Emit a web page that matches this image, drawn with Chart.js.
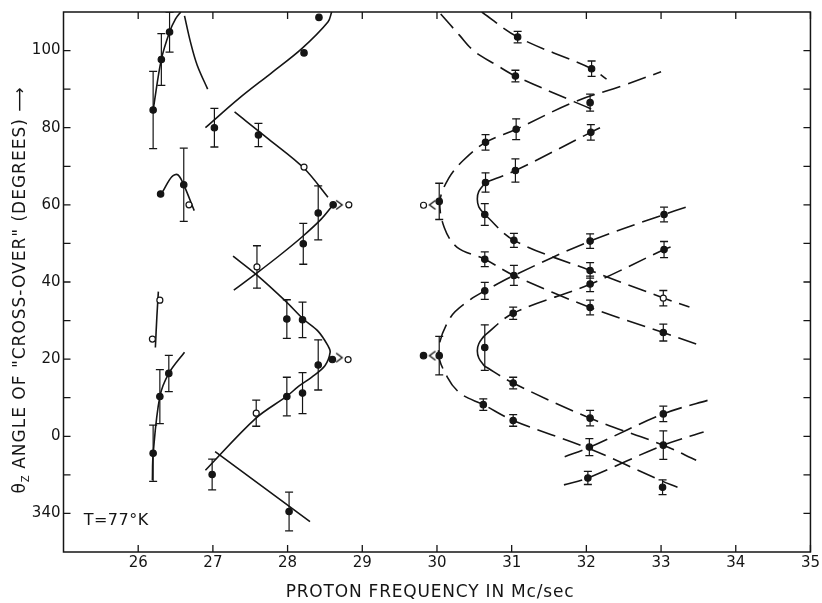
<!DOCTYPE html>
<html>
<head>
<meta charset="utf-8">
<script src="https://cdn.jsdelivr.net/npm/chart.js@4.4.1/dist/chart.umd.min.js"></script>
<style>
    html, body { margin: 0; padding: 0; background: #fff; }
    #wrap { width: 822px; height: 603px; position: relative; }
</style>
</head>
<body>
<div id="wrap"><canvas id="chart"></canvas></div>
<script>
'use strict';

// axes
var xRange = [25, 35];
var yRange = [-30, 110];
var xTickLabels = [26, 27, 28, 29, 30, 31, 32, 33, 34, 35];
var yTickMarks = [-20, -10, 0, 10, 20, 30, 40, 50, 60, 70, 80, 90, 100];
var yLabelMap = { '-20': '340', '0': '0', '20': '20', '40': '40', '60': '60', '80': '80', '100': '100' };

// measured points: [freq, angle, error]
var filledWithError = [
    [26.20, 84.6, 10], [26.31, 97.7, 6.7], [26.42, 104.8, 5.2], [26.61, 65.2, 9.5],
    [26.20, -4.4, 7.3], [26.29, 10.3, 7], [26.41, 16.3, 4.7],
    [27.02, 80.0, 5], [27.61, 78.1, 3], [28.41, 57.9, 7], [28.21, 49.9, 5.3],
    [27.99, 30.4, 5], [28.20, 30.2, 4.6], [28.41, 18.5, 6.5], [27.99, 10.3, 5],
    [28.20, 11.2, 5.3], [26.99, -9.9, 4], [28.02, -19.5, 5],
    [30.03, 60.9, 4.7], [31.08, 103.5, 1.5], [32.07, 95.3, 2], [31.05, 93.4, 1.5],
    [32.05, 86.5, 2.2], [30.65, 76.2, 2], [31.06, 79.6, 2.7], [32.06, 78.8, 2],
    [30.65, 65.8, 2.5], [31.05, 68.9, 3], [30.64, 57.5, 2.8], [31.03, 50.8, 1.8],
    [33.04, 57.5, 1.9], [32.05, 50.6, 1.9], [30.64, 45.9, 1.9], [31.03, 41.7, 2.6],
    [33.04, 48.4, 2.1], [32.05, 43.0, 2], [32.05, 39.5, 2], [32.05, 33.4, 1.9],
    [30.64, 37.7, 2.2], [31.02, 31.9, 1.6], [30.64, 23.0, 5.9], [30.03, 20.9, 5],
    [31.02, 13.8, 1.5], [30.62, 8.2, 1.5], [31.02, 4.1, 1.5], [32.05, 4.7, 2],
    [32.04, -2.8, 2.2], [32.02, -10.8, 1.7], [33.03, 5.8, 2], [33.03, -2.3, 3.7],
    [33.02, -13.2, 1.9], [33.03, 26.9, 2.2]
];
var openWithError = [[27.59, 43.9, 5.5], [27.58, 6.0, 3.4], [33.03, 35.8, 2]];
var filledBare = [[28.22, 99.4], [28.42, 108.6], [26.30, 62.8], [28.61, 60.0], [28.60, 19.9], [29.82, 20.9]];
var openBare = [[28.22, 69.8], [26.68, 60.0], [26.29, 35.3], [26.19, 25.2], [28.82, 60.0], [28.81, 19.9], [29.82, 59.9]];
var chevronsRight = [[28.69, 60.0], [28.69, 20.4]];
var chevronsLeft = [[29.94, 60.0], [29.94, 20.9]];

// solid curves drawn through the data
var curveA1 = [[26.20, 84.6], [26.31, 97.7], [26.42, 104.8], [26.50, 108.2], [26.57, 110]];
var curveA2 = [[26.62, 109], [26.70, 102.2], [26.79, 96.2], [26.93, 90]];
var curveA3 = [[26.33, 63.5], [26.45, 67.3], [26.53, 67.8], [26.61, 65.2], [26.75, 58.5]];
var curveA4 = [[26.27, 37.5], [26.25, 31], [26.23, 23]];
var curveA5 = [[26.19, -11.4], [26.20, -4.6], [26.29, 10.3], [26.41, 16.3], [26.62, 21.8]];
var curveB1 = [[26.90, 80.0], [27.35, 87.6], [27.79, 94.3], [28.19, 100.5], [28.54, 107.4], [28.59, 110]];
var curveB2 = [[27.29, 84.1], [27.75, 77.0], [28.22, 69.5], [28.54, 62.0]];
var curveB3 = [[27.28, 37.9], [27.60, 42.5], [27.90, 47.0], [28.20, 51.8], [28.45, 56.3], [28.61, 60.0]];
var curveB4 = [[27.27, 46.7], [27.59, 41.8], [27.97, 35.1], [28.21, 30.4], [28.41, 27.2], [28.54, 23.5],
    [28.57, 21.8], [28.50, 18.3], [28.32, 15.3], [28.15, 13.0], [27.99, 10.4], [27.57, 4.6], [26.90, -8.8]];
var curveB5 = [[27.03, -4.0], [28.30, -22.1]];
var arcUpper = [[30.65, 65.8], [30.56, 63.5], [30.54, 61.5], [30.56, 59.5], [30.64, 57.5]];
var arcLower = [[30.63, 26.0], [30.56, 24.0], [30.54, 22.2], [30.56, 20.3], [30.63, 18.3]];

// dashed curves
var dashOuterUpper = [[33.47, 23.9], [33.03, 26.9], [32.05, 33.4], [31.03, 41.7], [30.64, 45.9], [30.27, 49.0],
    [30.10, 54.0], [30.04, 61.0], [30.16, 67.0], [30.35, 71.5], [30.65, 76.2], [31.06, 79.6], [31.84, 86.7],
    [32.50, 91.0], [33.00, 94.5]];
var dashInnerUpperTop = [[30.65, 65.8], [31.05, 68.9], [32.06, 78.8], [32.26, 80.7]];
var dashInnerUpperBottom = [[30.64, 57.5], [31.03, 50.8], [32.05, 43.0], [33.04, 35.8], [33.38, 33.5]];
var dashOuterLower = [[33.33, 59.4], [33.04, 57.5], [32.05, 50.6], [31.03, 41.7], [30.64, 37.7], [30.45, 35.5],
    [30.18, 30.8], [30.02, 22.0], [30.14, 15.3], [30.32, 11.0], [30.62, 8.2], [31.02, 4.1], [32.05, -3.3],
    [33.00, -11.5], [33.22, -13.2]];
var dashInnerLowerTop = [[30.63, 26.0], [31.02, 31.9], [32.05, 39.4], [33.04, 48.4], [33.22, 49.7]];
var dashInnerLowerBottom = [[30.63, 18.3], [31.02, 13.8], [32.05, 4.7], [33.03, -2.3], [33.47, -6.2]];
var dashCrossA = [[31.70, -12.6], [32.02, -10.8], [33.03, -2.3], [33.57, 1.1]];
var dashCrossB = [[31.71, -5.3], [32.05, -2.8], [33.03, 5.8], [33.69, 9.7]];
var dashTopA = [[30.60, 110], [31.08, 103.5], [32.07, 95.3], [32.27, 92.6]];
var dashTopB = [[30.05, 109.5], [30.30, 104.0], [30.50, 99.8], [30.80, 96.2], [31.05, 93.4], [31.84, 86.7], [32.16, 84.1]];

var INK = '#151515';
var FONT = '"DejaVu Sans", sans-serif';

var toXY = function (list) {
        return list.map(function (p) { return { x: p[0], y: p[1] }; });
    },

    errorBarData = function (list) {
        var out = [];
        list.forEach(function (p) {
            out.push({ x: p[0], y: p[1] - p[2] });
            out.push({ x: p[0], y: p[1] + p[2] });
            out.push({ x: p[0], y: null });
        });
        return out;
    },

    chevron = function (dir) {
        var c = document.createElement('canvas'), g;
        c.width = 10;
        c.height = 12;
        g = c.getContext('2d');
        g.strokeStyle = INK;
        g.lineWidth = 1.4;
        g.beginPath();
        if (dir > 0) {
            g.moveTo(2, 1.5); g.lineTo(8, 6); g.lineTo(2, 10.5);
        } else {
            g.moveTo(8, 1.5); g.lineTo(2, 6); g.lineTo(8, 10.5);
        }
        g.stroke();
        return c;
    },

    curve = function (list, dashed) {
        return {
            data: toXY(list),
            showLine: true,
            borderColor: INK,
            borderWidth: 1.6,
            borderDash: dashed ? [19, 8] : [],
            pointRadius: 0,
            tension: 0.35,
            fill: false
        };
    },

    markers = function (list, open, radius) {
        return {
            data: toXY(list),
            showLine: false,
            pointRadius: radius,
            pointBorderWidth: 1.2,
            pointBorderColor: INK,
            pointBackgroundColor: open ? '#fff' : INK
        };
    },

    bars = function (list) {
        return {
            data: errorBarData(list),
            showLine: true,
            spanGaps: false,
            borderColor: INK,
            borderWidth: 1.2,
            pointStyle: 'line',
            pointRadius: 4,
            pointBorderWidth: 1.3,
            pointBorderColor: INK,
            tension: 0
        };
    },

    chevronSet = function (list, dir) {
        return {
            data: toXY(list),
            showLine: false,
            pointStyle: chevron(dir),
            pointRadius: 5
        };
    },

    frameAndText = {
        id: 'frameAndText',
        afterDraw: function (chart) {
            var ctx = chart.ctx,
                area = chart.chartArea,
                xs = chart.scales.x,
                ys = chart.scales.y,
                tick = 7,
                title = 'ANGLE OF "CROSS-OVER" (DEGREES) \u27F6',
                size, w, start;

            ctx.save();
            ctx.strokeStyle = INK;
            ctx.lineWidth = 1.5;
            ctx.strokeRect(area.left, area.top, area.right - area.left, area.bottom - area.top);

            ctx.lineWidth = 1.3;
            ctx.beginPath();
            xTickLabels.forEach(function (v) {
                var px = xs.getPixelForValue(v);
                ctx.moveTo(px, area.bottom); ctx.lineTo(px, area.bottom - tick);
                ctx.moveTo(px, area.top); ctx.lineTo(px, area.top + tick);
            });
            yTickMarks.forEach(function (v) {
                var py = ys.getPixelForValue(v);
                ctx.moveTo(area.left, py); ctx.lineTo(area.left + tick, py);
                ctx.moveTo(area.right, py); ctx.lineTo(area.right - tick, py);
            });
            ctx.stroke();

            ctx.fillStyle = INK;

            // x title
            ctx.font = '17px ' + FONT;
            ctx.letterSpacing = '0.8px';
            ctx.textAlign = 'center';
            ctx.textBaseline = 'alphabetic';
            ctx.fillText('PROTON FREQUENCY IN Mc/sec', 430, 597);

            // temperature note
            ctx.font = '16px ' + FONT;
            ctx.letterSpacing = '0.5px';
            ctx.textAlign = 'left';
            ctx.textBaseline = 'middle';
            ctx.fillText('T=77\u00B0K', xs.getPixelForValue(25.27), ys.getPixelForValue(-21.8));

            // y title, rotated, with subscript
            size = 17;
            ctx.letterSpacing = '1px';
            ctx.translate(21, 290);
            ctx.rotate(-Math.PI / 2);
            ctx.textAlign = 'left';
            ctx.textBaseline = 'middle';
            ctx.font = size + 'px ' + FONT;
            w = ctx.measureText('\u03B8').width + 7 + ctx.measureText(' ' + title).width;
            start = -w / 2;
            ctx.fillText('\u03B8', start, 0);
            start += ctx.measureText('\u03B8').width;
            ctx.font = '10px ' + FONT;
            ctx.fillText('Z', start, 5);
            start += 7;
            ctx.font = size + 'px ' + FONT;
            ctx.fillText(' ' + title, start, 0);
            ctx.restore();
        }
    },

    datasets = [
        markers(openWithError, true, 3),
        markers(openBare, true, 3),
        markers(filledWithError, false, 3.2),
        markers(filledBare, false, 3.2),
        chevronSet(chevronsRight, 1),
        chevronSet(chevronsLeft, -1),
        bars(filledWithError.concat(openWithError)),
        curve(curveA1), curve(curveA2), curve(curveA3), curve(curveA4), curve(curveA5),
        curve(curveB1), curve(curveB2), curve(curveB3), curve(curveB4), curve(curveB5),
        curve(arcUpper), curve(arcLower),
        curve(dashOuterUpper, true), curve(dashInnerUpperTop, true), curve(dashInnerUpperBottom, true),
        curve(dashOuterLower, true), curve(dashInnerLowerTop, true), curve(dashInnerLowerBottom, true),
        curve(dashCrossA, true), curve(dashCrossB, true), curve(dashTopA, true), curve(dashTopB, true)
    ];

new Chart(document.getElementById('chart').getContext('2d'), {
    type: 'scatter',
    data: { datasets: datasets },
    plugins: [frameAndText],
    options: {
        responsive: true,
        maintainAspectRatio: false,
        animation: false,
        events: [],
        layout: { padding: { top: 10.7, right: 5.5, left: 0, bottom: 0 } },
        plugins: { legend: { display: false }, tooltip: { enabled: false } },
        scales: {
            x: {
                type: 'linear',
                min: xRange[0],
                max: xRange[1],
                afterFit: function (scale) { scale.height = 51; },
                grid: { display: false, drawTicks: false },
                border: { display: false },
                ticks: {
                    stepSize: 1,
                    padding: 2,
                    maxRotation: 0,
                    autoSkip: false,
                    color: INK,
                    font: { family: FONT, size: 15 },
                    callback: function (v) { return xTickLabels.indexOf(v) >= 0 ? String(v) : ''; }
                }
            },
            y: {
                type: 'linear',
                min: yRange[0],
                max: yRange[1],
                afterFit: function (scale) { scale.width = 63.5; },
                grid: { display: false, drawTicks: false },
                border: { display: false },
                ticks: {
                    stepSize: 10,
                    padding: 3,
                    autoSkip: false,
                    color: INK,
                    font: { family: FONT, size: 15 },
                    callback: function (v) { return yLabelMap[String(v)] || ''; }
                }
            }
        }
    }
});
</script>
</body>
</html>
